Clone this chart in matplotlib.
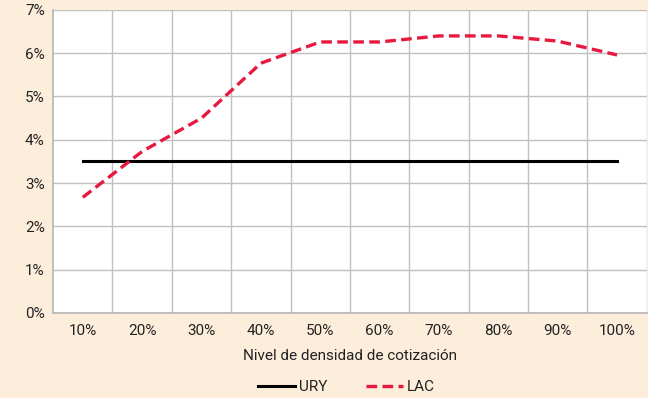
import matplotlib.pyplot as plt
from matplotlib.ticker import FixedLocator

plt.rcParams['font.family'] = ['Roboto', 'DejaVu Sans']

categories = ["10%", "20%", "30%", "40%", "50%", "60%", "70%", "80%", "90%", "100%"]
ury = [3.52] * 10
lac = [2.67, 3.73, 4.5, 5.77, 6.26, 6.26, 6.4, 6.4, 6.28, 5.96]
y_ticks = [0, 1, 2, 3, 4, 5, 6, 7]

bg = "#FDEEDC"
red = "#E8183F"

fig = plt.figure(figsize=(6.48, 3.98), dpi=100, facecolor=bg)
ax = fig.add_axes([0.082, 0.214, 0.916, 0.761])
ax.set_facecolor("white")

x = list(range(len(categories)))
ax.plot(x, ury, color="black", lw=2.2, label="URY")
ax.plot(x, lac, color=red, lw=2.4, ls=(0, (3.2, 1.6)), label="LAC")

ax.set_xlim(-0.5, len(categories) - 0.5)
ax.set_ylim(0, 7)
ax.set_xticks(x)
ax.set_xticklabels(categories)
ax.xaxis.set_minor_locator(FixedLocator([i + 0.5 for i in x]))
ax.set_yticks(y_ticks)
ax.set_yticklabels(["{}%".format(v) for v in y_ticks])

ax.grid(axis="y", color="#C0C0C0", lw=1)
ax.grid(axis="x", which="minor", color="#C0C0C0", lw=1)
ax.set_axisbelow(True)
ax.tick_params(axis="both", which="both", length=0, labelsize=11, colors="#222222")
ax.tick_params(axis="x", pad=8)
ax.tick_params(axis="y", pad=6)
for s in ["top", "right"]:
    ax.spines[s].set_visible(False)
for s in ["left", "bottom"]:
    ax.spines[s].set_color("#B5B5B5")
    ax.spines[s].set_linewidth(1.2)

ax.set_xlabel("Nivel de densidad de cotización", fontsize=11, color="#222222", labelpad=8)

fig.legend(loc="lower center", bbox_to_anchor=(0.535, -0.025), ncol=2, frameon=False,
           fontsize=11, handlelength=2.4, columnspacing=2.5, handletextpad=0.3,
           labelcolor="#222222")

fig.savefig("out.png", dpi=100, facecolor=bg)
